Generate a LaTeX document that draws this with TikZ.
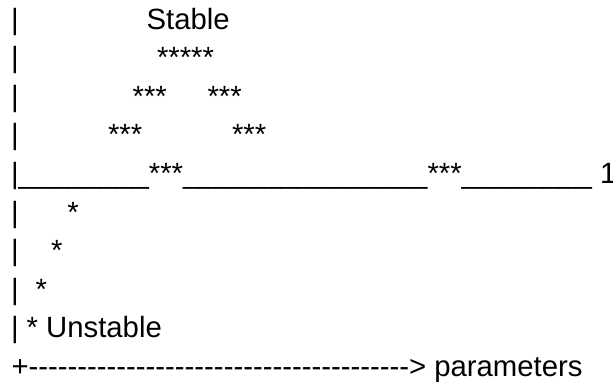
\documentclass[tikz,border=0pt]{standalone}
\usepackage{fontspec}
\newfontfamily\asc{Liberation Sans}
\usepackage{tikz}

\begin{document}
\begin{tikzpicture}[x=0.5pt,y=-0.5pt,
		txt/.style={inner sep=0pt,outer sep=0pt,anchor=base west,font=\asc\fontsize{14.65}{17}\selectfont}]
			\useasboundingbox (0,0) rectangle (613,387);
			\foreach \r in {0,1,2,3,5,6,7,8}
				\node[txt] (bar\r) at (11,{29+38.6*\r}) {|};
			\node[txt] (stable) at (146.6,29) {Stable};
			\node[txt] (peak) at (157,67.6) {*****};
			\node[txt] (upL) at (132.6,106.2) {***};
			\node[txt] (upR) at (207.5,106.2) {***};
			\node[txt] (midL) at (108,144.8) {***};
			\node[txt] (midR) at (232,144.8) {***};
			\node[txt] (axis) at (11,183.4) {|\_\_\_\_\_\_\_\_***\_\_\_\_\_\_\_\_\_\_\_\_\_\_\_***\_\_\_\_\_\_\_\_ 1};
			\node[txt] (low1) at (67.4,222) {*};
			\node[txt] (low2) at (51.2,260.6) {*};
			\node[txt] (low3) at (35.5,299.2) {*};
			\node[txt] (low4) at (26.7,337.8) {*};
			\node[txt] (unstable) at (46.2,337.8) {Unstable};
			\node[txt] (params) at (11.5,376.4) {+---------------------------------------> parameters};
		\end{tikzpicture}
\end{document}
